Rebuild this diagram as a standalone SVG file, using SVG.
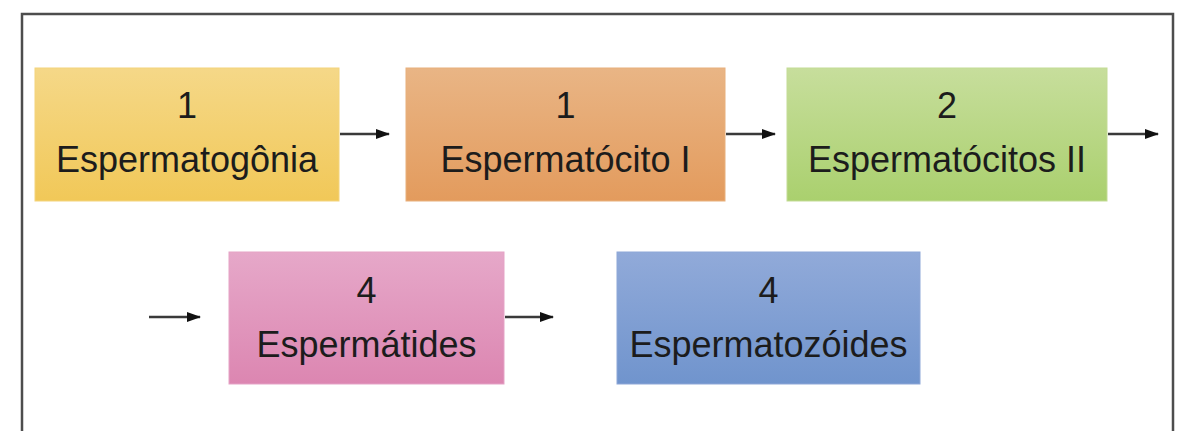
<svg xmlns="http://www.w3.org/2000/svg" width="1185" height="431" viewBox="0 0 1185 431">
  <style>
    .box { stroke-width: 1; }
    .num, .name { font-family: "Liberation Sans", Arial, sans-serif; font-size: 36px; fill: #1c1c1c; text-anchor: middle; }
    .conn { stroke: #3a3a3a; stroke-width: 2.5; fill: none; marker-end: url(#head); }
  </style>
  <defs>
    <marker id="head" viewBox="0 0 14 10" refX="13" refY="5" markerWidth="14" markerHeight="10" markerUnits="userSpaceOnUse" orient="auto">
      <path d="M0,0 L14,5 L0,10 z" fill="#111"/>
    </marker>
    <linearGradient id="gYellow" x1="0" y1="0" x2="0" y2="1">
      <stop offset="0" stop-color="#f5d888"/>
      <stop offset="1" stop-color="#f1c858"/>
    </linearGradient>
    <linearGradient id="gOrange" x1="0" y1="0" x2="0" y2="1">
      <stop offset="0" stop-color="#e9b585"/>
      <stop offset="1" stop-color="#e39b5d"/>
    </linearGradient>
    <linearGradient id="gGreen" x1="0" y1="0" x2="0" y2="1">
      <stop offset="0" stop-color="#c7de9c"/>
      <stop offset="1" stop-color="#aad06e"/>
    </linearGradient>
    <linearGradient id="gPink" x1="0" y1="0" x2="0" y2="1">
      <stop offset="0" stop-color="#e6a8c9"/>
      <stop offset="1" stop-color="#dc86b1"/>
    </linearGradient>
    <linearGradient id="gBlue" x1="0" y1="0" x2="0" y2="1">
      <stop offset="0" stop-color="#91aad9"/>
      <stop offset="1" stop-color="#7094cd"/>
    </linearGradient>
  </defs>

  <rect width="1185" height="431" fill="#ffffff"/>

  <!-- outer frame, open at the bottom edge -->
  <path d="M22,440 L22,14 L1173,14 L1173,440" fill="none" stroke="#4d4d4d" stroke-width="2.5"/>

  <g id="connectors">
    <line class="conn" x1="340" y1="134" x2="389" y2="134"/>
    <line class="conn" x1="726" y1="134" x2="775" y2="134"/>
    <line class="conn" x1="1108" y1="134" x2="1158" y2="134"/>
    <line class="conn" x1="149" y1="317" x2="200" y2="317"/>
    <line class="conn" x1="505" y1="317" x2="553" y2="317"/>
  </g>

  <g id="espermatogonia">
    <rect class="box" x="35" y="68" width="304" height="133" fill="url(#gYellow)" stroke="#f3d47c"/>
    <text class="num" x="187" y="118">1</text>
    <text class="name" x="187" y="172">Espermatogônia</text>
  </g>

  <g id="espermatocito-1">
    <rect class="box" x="406" y="68" width="319" height="133" fill="url(#gOrange)" stroke="#e8b07c"/>
    <text class="num" x="565.5" y="118">1</text>
    <text class="name" x="565.5" y="172">Espermatócito I</text>
  </g>

  <g id="espermatocitos-2">
    <rect class="box" x="787" y="68" width="320" height="133" fill="url(#gGreen)" stroke="#c3db95"/>
    <text class="num" x="947" y="118">2</text>
    <text class="name" x="947" y="172">Espermatócitos II</text>
  </g>

  <g id="espermatides">
    <rect class="box" x="229" y="252" width="275" height="132" fill="url(#gPink)" stroke="#e5a3c6"/>
    <text class="num" x="366.5" y="303">4</text>
    <text class="name" x="366.5" y="357">Espermátides</text>
  </g>

  <g id="espermatozoides">
    <rect class="box" x="617" y="252" width="303" height="132" fill="url(#gBlue)" stroke="#8ea7d7"/>
    <text class="num" x="768.5" y="303">4</text>
    <text class="name" x="768.5" y="357">Espermatozóides</text>
  </g>
</svg>
